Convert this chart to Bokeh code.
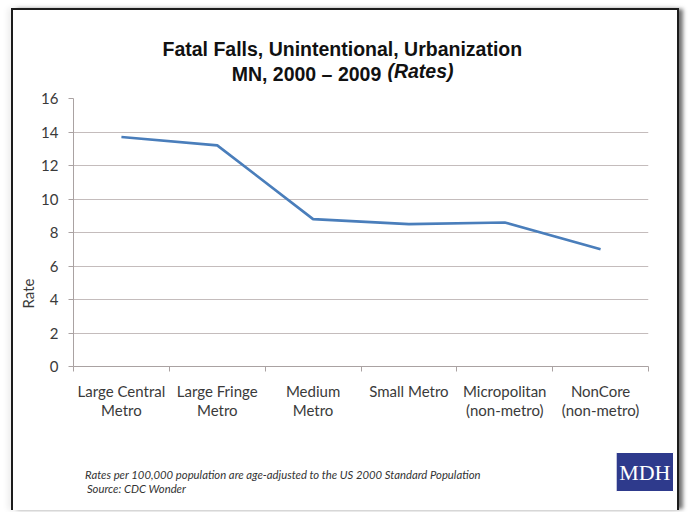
from bokeh.plotting import figure
from bokeh.models import Range1d, FixedTicker, Title, LinearAxis
from bokeh.embed import file_html
from bokeh.resources import INLINE

# ---- data ----
categories = ["Large Central\nMetro", "Large Fringe\nMetro", "Medium\nMetro",
              "Small Metro", "Micropolitan\n(non-metro)", "NonCore\n(non-metro)"]
rates = [13.7, 13.2, 8.8, 8.5, 8.6, 7.0]
y_ticks = [0, 2, 4, 6, 8, 10, 12, 14, 16]

title_line1 = "Fatal Falls, Unintentional, Urbanization"
title_line2a = "MN, 2000 \u2013 2009"
title_line2b = "(Rates)"
y_label = "Rate"
note1 = "Rates per 100,000 population are age-adjusted to the US 2000 Standard Population"
note2 = "Source: CDC Wonder"
logo_text = "MDH"

n = len(categories)
xs = [i + 0.5 for i in range(n)]

p = figure(width=668, height=502, output_backend="svg", toolbar_location=None,
           x_range=Range1d(0, n), y_range=Range1d(0, 16),
           min_border_left=60, min_border_right=33, min_border_top=88,
           min_border_bottom=146)
p.styles = {"margin-left": "11px", "margin-top": "8px",
            "border-left": "2px solid #1c1c1c", "border-top": "2px solid #1c1c1c",
            "border-right": "2px solid #1c1c1c",
            "box-shadow": "5px 0px 4px -1px rgba(0,0,0,0.55), -3px 0px 6px rgba(0,0,0,0.08)"}
p.background_fill_color = "white"
p.border_fill_color = "white"
p.outline_line_color = None

p.line(xs, rates, line_color="#4a7ebb", line_width=2.6)

grid_col = "#c4bcbc"
axis_col = "#aaa2a2"
label_col = "#3a3a3a"
font = "Lato"
tfont = "Liberation Sans"


def text_axis(pos, label, standoff, **style):
    """An axis used only to carry one positioned text label."""
    return LinearAxis(ticker=FixedTicker(ticks=[pos]),
                      major_label_overrides={pos: label},
                      axis_line_color=None, major_tick_line_color=None,
                      minor_tick_line_color=None, major_tick_out=0, major_tick_in=0,
                      major_label_standoff=standoff, **style)


# y axis
p.yaxis.ticker = FixedTicker(ticks=y_ticks)
p.yaxis.axis_line_color = axis_col
p.yaxis.major_tick_line_color = axis_col
p.yaxis.major_tick_out = 5
p.yaxis.major_tick_in = 0
p.yaxis.minor_tick_line_color = None
p.yaxis.major_label_standoff = 10
p.yaxis.major_label_text_font = font
p.yaxis.major_label_text_font_size = "15px"
p.yaxis.major_label_text_color = label_col
p.ygrid.grid_line_color = grid_col
p.ygrid.ticker = FixedTicker(ticks=y_ticks)

# x axis
p.xaxis.ticker = FixedTicker(ticks=xs, minor_ticks=list(range(n + 1)))
p.xaxis.major_label_overrides = {x: c for x, c in zip(xs, categories)}
p.xaxis.axis_line_color = axis_col
p.xaxis.major_tick_line_color = None
p.xaxis.major_tick_out = 0
p.xaxis.major_tick_in = 0
p.xaxis.minor_tick_line_color = axis_col
p.xaxis.minor_tick_out = 5
p.xaxis.minor_tick_in = 0
p.xaxis.major_label_standoff = 10
p.xaxis.major_label_text_font = font
p.xaxis.major_label_text_font_size = "15px"
p.xaxis.major_label_text_color = label_col
p.xaxis.major_label_text_line_height = 1.1
p.xgrid.grid_line_color = None

# ---- title (above) ----
tstyle = dict(major_label_text_font=tfont, major_label_text_font_size="19.5px",
              major_label_text_color="#111111")
p.add_layout(text_axis(2.431, title_line2a, 14, major_label_text_font_style="bold",
                       **tstyle), "above")
p.add_layout(text_axis(3.621, title_line2b, -22, major_label_text_font_style="bold italic",
                       **tstyle), "above")
p.add_layout(Title(text=title_line1, align="left", offset=89, standoff=-7,
                   text_font=tfont, text_font_style="bold", text_font_size="19.5px",
                   text_color="#111111"), "above")

# ---- y label ----
p.add_layout(Title(text=y_label, align="left", offset=58, standoff=4,
                   text_font=font, text_font_style="normal", text_font_size="15px",
                   text_color=label_col), "left")

# ---- logo (zero-height title drawn over the footnote rows) ----
p.add_layout(Title(text=logo_text, align="right", offset=-25, standoff=-138,
                   text_font="Liberation Serif", text_font_style="normal",
                   text_font_size="22px", text_color="white",
                   background_fill_color="#2e3a8c", border_line_color="white",
                   padding=(3, 7)), "below")

# ---- footnotes (below) ----
nstyle = dict(major_label_text_font=font, major_label_text_font_style="italic",
              major_label_text_font_size="11.3px", major_label_text_color="#333333")
p.add_layout(text_axis(2.186, note1, 45, **nstyle), "below")
p.add_layout(text_axis(0.657, note2, -2, **nstyle), "below")

open("out.html", "w").write(file_html(p, INLINE))
